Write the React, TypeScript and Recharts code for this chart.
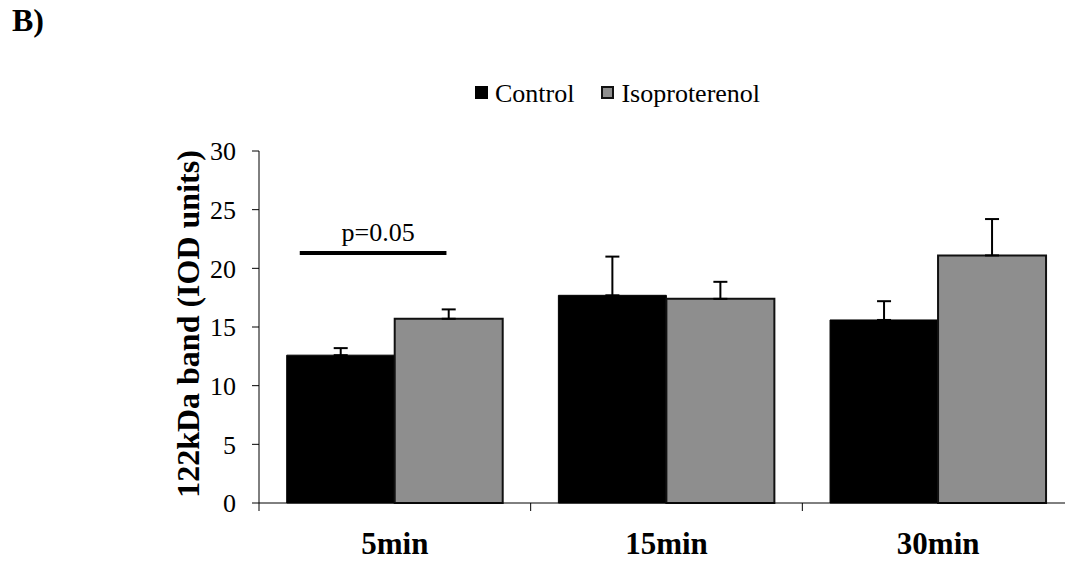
import React from "react";
import {
  Bar,
  BarChart,
  ErrorBar,
  Legend,
  ReferenceLine,
  XAxis,
  YAxis,
} from "recharts";

const categories = ["5min", "15min", "30min"];
const controlValues = [12.6, 17.7, 15.6];
const controlErrors = [0.6, 3.3, 1.6];
const isoValues = [15.7, 17.4, 21.1];
const isoErrors = [0.8, 1.45, 3.1];
const yTicks = [0, 5, 10, 15, 20, 25, 30];

// significance bar over the 5min group (x in category units, y in IOD units)
const sigBar = { from: 0.15, to: 0.69, y: 21.3, text: "p=0.05" };

const data = categories.map((name, i) => ({
  name,
  control: controlValues[i],
  controlErr: [0, controlErrors[i]],
  iso: isoValues[i],
  isoErr: [0, isoErrors[i]],
}));

const SERIF = "'Liberation Serif', 'Times New Roman', serif";

function CategoryTick(props: any) {
  const { x, y, payload, width } = props;
  const half = payload?.offset ?? width / categories.length / 2;
  const edge = x - half;
  return (
    <g>
      <line x1={edge} y1={y - 8} x2={edge} y2={y} stroke="#000" strokeWidth={1} />
      <text
        x={x}
        y={y + 43}
        textAnchor="middle"
        fontFamily={SERIF}
        fontWeight="bold"
        fontSize={31}
        fill="#000"
      >
        {payload.value}
      </text>
    </g>
  );
}

function LegendContent({ payload }: any) {
  return (
    <div
      style={{
        display: "flex",
        alignItems: "center",
        fontFamily: SERIF,
        fontSize: 26,
        lineHeight: "30px",
        color: "#000",
      }}
    >
      {(payload || []).map((entry: any, i: number) => (
        <div
          key={i}
          style={{ display: "flex", alignItems: "center", marginRight: 27 }}
        >
          <span
            style={{
              display: "inline-block",
              width: 13,
              height: 13,
              boxSizing: "border-box",
              background: entry.color,
              border: `2px solid ${entry.payload?.stroke ?? "#000"}`,
              marginRight: 7,
              marginTop: -3,
            }}
          />
          {entry.value}
        </div>
      ))}
    </div>
  );
}

function YLabel(props: any) {
  const vb = props.viewBox || { x: 165, y: 151, width: 94, height: 352 };
  const cx = vb.x + 33.5;
  const cy = vb.y + vb.height / 2 - 3;
  return (
    <text
      x={cx}
      y={cy}
      transform={`rotate(-90 ${cx} ${cy})`}
      textAnchor="middle"
      fontFamily={SERIF}
      fontWeight="bold"
      fontSize={32}
      fill="#000"
    >
      122kDa band (IOD units)
    </text>
  );
}

// horizontal reference line trimmed to the span of the 5min group
function sigPoints(p: any) {
  const w = p.x2 - p.x1;
  const n = categories.length;
  return {
    xa: p.x1 + (w * sigBar.from) / n,
    xb: p.x1 + (w * sigBar.to) / n,
    y: p.y1,
  };
}

function SigShape(p: any) {
  const s = sigPoints(p);
  return (
    <g>
      <line x1={s.xa} y1={s.y} x2={s.xb} y2={s.y} stroke="#000" strokeWidth={4} />
      <text
        x={(s.xa + s.xb) / 2 + 5}
        y={s.y - 12.5}
        textAnchor="middle"
        fontFamily={SERIF}
        fontSize={26}
        fill="#000"
      >
        {sigBar.text}
      </text>
    </g>
  );
}

export default function App() {
  return (
    <div
      style={{
        position: "absolute",
        left: 0,
        top: 0,
        width: 1065,
        height: 563,
        overflow: "hidden",
        background: "#fff",
      }}
    >
      <div
        style={{
          position: "absolute",
          left: 12,
          top: 4,
          fontFamily: SERIF,
          fontWeight: "bold",
          fontSize: 32,
          lineHeight: "32px",
          color: "#000",
        }}
      >
        B)
      </div>
      <BarChart
        width={1074}
        height={563}
        data={data}
        margin={{ top: 151, right: 0, bottom: 0, left: 165 }}
        barCategoryGap="10.2%"
        barGap={0}
      >
        <XAxis
          dataKey="name"
          height={60}
          axisLine={{ stroke: "#000" }}
          tickLine={false}
          tickSize={8}
          tickMargin={0}
          tick={<CategoryTick />}
          interval={0}
        />
        <YAxis
          width={94}
          domain={[0, 30]}
          ticks={yTicks}
          interval={0}
          axisLine={{ stroke: "#000" }}
          tickLine={{ stroke: "#000" }}
          tickSize={7}
          tickMargin={16}
          tick={{ fill: "#000", fontSize: 26, fontFamily: SERIF }}
          label={{ content: <YLabel /> }}
        />
        <Legend
          verticalAlign="middle"
          align="center"
          layout="horizontal"
          wrapperStyle={{ left: 475, top: 79, width: 500 }}
          content={<LegendContent />}
        />
        <Bar
          dataKey="control"
          name="Control"
          fill="#000"
          stroke="#000"
          strokeWidth={1}
          isAnimationActive={false}
        >
          <ErrorBar dataKey="controlErr" width={7} strokeWidth={2} stroke="#000" direction="y" />
        </Bar>
        <Bar
          dataKey="iso"
          name="Isoproterenol"
          fill="#8e8e8e"
          stroke="#111"
          strokeWidth={2}
          isAnimationActive={false}
        >
          <ErrorBar dataKey="isoErr" width={7} strokeWidth={2} stroke="#000" direction="y" />
        </Bar>
        <ReferenceLine y={sigBar.y} shape={SigShape} />
      </BarChart>
    </div>
  );
}
